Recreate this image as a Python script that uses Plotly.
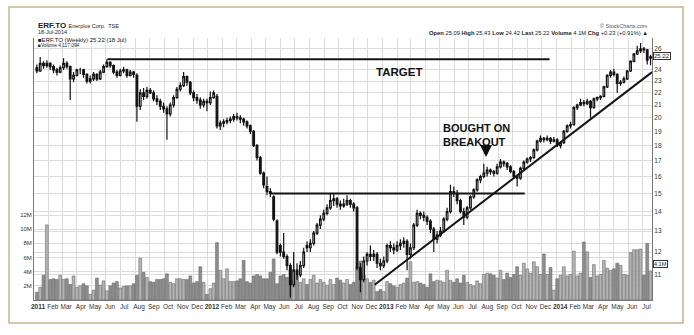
import math
import pandas as pd
import plotly.graph_objects as go

# ---------------- data (weekly, ERF.TO) ----------------
first_week = "2011-01-07"   # first weekly bar (Friday)
n_weeks = 185

opens_2011 = [24.2, 23.9, 24.6, 24.4, 24.6, 24.3, 24.0, 23.8, 24.2, 24.6,
              24.3, 23.2, 23.5, 24.0, 24.0, 23.6, 23.0, 23.2, 23.6, 23.2,
              23.8, 24.3, 24.7, 24.4, 23.8, 23.5, 23.9, 24.0, 23.5, 23.8,
              23.5, 20.9, 22.0, 21.7, 22.2, 22.0, 21.5, 21.3, 20.9, 20.7,
              20.3, 21.0, 21.6, 22.3, 22.6, 23.4, 22.9, 22.0, 21.6, 21.4,
              21.0, 21.3]
highs_2011 = [24.5, 25.2, 24.8, 24.9, 24.7, 24.5, 24.2, 24.4, 25.1, 24.8,
              24.4, 23.8, 24.1, 24.2, 24.1, 23.7, 23.5, 23.8, 23.7, 24.0,
              24.5, 25.0, 24.8, 24.5, 24.0, 24.1, 24.3, 24.1, 24.0, 23.9,
              23.7, 22.3, 22.4, 22.5, 22.4, 22.2, 21.8, 21.5, 21.2, 20.9,
              21.2, 21.8, 22.5, 22.9, 23.8, 23.5, 23.0, 22.2, 21.9, 21.6,
              21.5, 21.5]
lows_2011 = [23.7, 23.8, 24.1, 24.2, 24.0, 23.7, 23.5, 23.7, 24.0, 24.1,
             21.4, 22.9, 23.4, 23.6, 23.3, 22.8, 22.8, 23.0, 23.0, 23.1,
             23.7, 24.2, 24.2, 23.6, 23.3, 23.4, 23.7, 23.3, 23.4, 23.3,
             19.7, 20.6, 21.4, 21.5, 21.9, 21.3, 21.0, 20.6, 20.4, 18.4,
             20.1, 20.8, 21.5, 22.1, 22.5, 22.6, 21.8, 21.3, 21.1, 20.7,
             20.8, 20.5]
closes_2011 = [23.9, 24.6, 24.4, 24.6, 24.3, 24.0, 23.8, 24.2, 24.6, 24.3,
               23.2, 23.5, 24.0, 24.0, 23.6, 23.0, 23.2, 23.6, 23.2, 23.8,
               24.3, 24.7, 24.4, 23.8, 23.5, 23.9, 24.0, 23.5, 23.8, 23.6,
               20.9, 22.0, 21.7, 22.2, 22.0, 21.5, 21.3, 20.9, 20.7, 20.3,
               21.0, 21.6, 22.3, 22.6, 23.4, 22.9, 22.0, 21.6, 21.4, 21.0,
               21.3, 21.2]

opens_2012 = [21.2, 21.6, 21.7, 19.4, 19.6, 19.7, 19.8, 19.9, 20.1, 20.0,
              19.9, 19.7, 19.4, 19.0, 18.0, 17.2, 16.2, 15.4, 15.1, 14.8,
              13.5, 12.3, 12.0, 11.8, 11.4, 10.6, 11.2, 11.0, 11.4, 12.3,
              12.2, 12.4, 12.9, 13.3, 13.6, 13.9, 14.2, 14.6, 14.7, 14.4,
              14.3, 14.4, 14.6, 14.4, 14.2, 11.3, 10.8, 11.6, 11.9, 11.8,
              11.9, 11.5]
highs_2012 = [22.1, 22.2, 21.9, 19.8, 19.9, 20.0, 20.1, 20.3, 20.4, 20.2,
              20.0, 19.8, 19.5, 19.1, 18.1, 17.3, 16.3, 16.0, 15.3, 14.9,
              13.6, 12.4, 12.9, 11.9, 11.5, 12.0, 11.5, 11.6, 12.2, 12.5,
              12.6, 13.0, 13.4, 13.8, 14.1, 14.4, 15.0, 15.0, 14.8, 14.6,
              14.7, 14.9, 14.7, 14.5, 14.3, 11.5, 11.8, 12.0, 12.3, 12.1,
              12.0, 11.7]
lows_2012 = [21.0, 21.5, 19.2, 19.1, 19.3, 19.5, 19.6, 19.7, 19.8, 19.6,
             19.4, 19.2, 18.8, 17.9, 17.0, 16.1, 15.3, 14.9, 14.8, 13.5,
             11.9, 11.8, 11.7, 11.2, 10.1, 10.5, 10.8, 10.9, 11.3, 12.0,
             12.0, 12.3, 12.8, 13.1, 13.5, 13.8, 14.1, 14.3, 14.2, 14.1,
             14.2, 14.3, 14.2, 14.0, 11.2, 10.3, 10.7, 11.4, 11.6, 11.6,
             11.3, 11.2]
closes_2012 = [21.6, 22.0, 19.4, 19.6, 19.7, 19.8, 19.9, 20.1, 20.0, 19.9,
               19.7, 19.4, 19.0, 18.0, 17.2, 16.2, 15.5, 15.1, 15.0, 13.6,
               12.0, 12.0, 11.8, 11.4, 10.6, 11.2, 11.0, 11.4, 12.0, 12.2,
               12.4, 12.9, 13.3, 13.6, 13.9, 14.2, 14.6, 14.7, 14.4, 14.3,
               14.4, 14.6, 14.4, 14.2, 11.3, 10.8, 11.6, 11.9, 11.8, 11.9,
               11.5, 11.4]

opens_2013 = [11.4, 11.6, 12.3, 12.2, 12.1, 12.3, 12.4, 12.5, 11.9, 12.2,
              13.3, 13.9, 13.8, 13.7, 13.5, 13.1, 12.6, 12.8, 13.0, 13.6,
              14.0, 15.1, 15.0, 14.6, 14.0, 13.7, 14.2, 14.8, 15.2, 15.8,
              16.0, 16.2, 16.4, 16.3, 16.2, 16.6, 16.9, 16.8, 16.6, 16.3,
              16.0, 15.9, 16.5, 16.9, 17.1, 17.2, 17.7, 18.3, 18.5, 18.4,
              18.5, 18.3]
highs_2013 = [11.8, 12.4, 12.5, 12.4, 12.5, 12.6, 12.7, 12.6, 12.4, 13.4,
              14.1, 14.0, 14.0, 13.8, 13.6, 13.2, 13.0, 13.2, 13.7, 14.2,
              15.5, 15.4, 15.2, 14.7, 14.2, 14.3, 14.9, 15.3, 15.9, 16.1,
              16.8, 16.6, 16.5, 16.4, 16.8, 17.1, 17.0, 16.9, 16.7, 16.4,
              16.1, 16.6, 17.0, 17.2, 17.3, 17.8, 18.4, 18.7, 18.6, 18.7,
              18.6, 18.6]
lows_2013 = [11.3, 11.5, 12.0, 11.9, 12.0, 12.1, 12.2, 11.2, 11.7, 12.1,
             13.2, 13.6, 13.5, 13.3, 12.9, 12.0, 12.4, 12.7, 12.9, 13.5,
             13.9, 14.8, 14.4, 13.9, 13.3, 13.6, 14.1, 14.7, 15.1, 15.6,
             15.9, 16.0, 16.1, 16.0, 16.1, 16.5, 16.6, 16.4, 16.2, 15.9,
             15.4, 15.8, 16.4, 16.8, 16.9, 17.1, 17.6, 18.2, 18.2, 18.3,
             18.1, 18.2]
closes_2013 = [11.6, 12.3, 12.2, 12.1, 12.3, 12.4, 12.5, 11.9, 12.2, 13.3,
               13.9, 13.8, 13.7, 13.5, 13.1, 12.6, 12.8, 13.0, 13.6, 14.0,
               15.1, 15.0, 14.6, 14.0, 13.7, 14.2, 14.8, 15.2, 15.8, 16.0,
               16.2, 16.4, 16.3, 16.2, 16.6, 16.9, 16.8, 16.6, 16.3, 16.0,
               15.9, 16.5, 16.9, 17.1, 17.2, 17.7, 18.3, 18.5, 18.4, 18.5,
               18.3, 18.4]

opens_2014 = [18.4, 18.0, 18.2, 19.0, 19.4, 19.5, 20.8, 21.0, 21.2, 21.1,
              21.3, 20.8, 21.5, 21.6, 21.7, 22.5, 23.5, 23.8, 23.6, 22.8,
              22.9, 23.2, 23.9, 24.8, 25.5, 25.8, 26.0, 25.9, 25.09]
highs_2014 = [18.5, 18.3, 19.1, 19.5, 19.7, 20.9, 21.1, 21.5, 21.4, 21.5,
              21.4, 21.6, 21.7, 21.8, 22.6, 23.6, 24.0, 24.1, 23.7, 23.1,
              23.4, 24.0, 24.9, 25.6, 26.3, 26.6, 26.2, 26.0, 25.43]
lows_2014 = [17.9, 17.8, 18.1, 18.9, 19.2, 19.4, 20.6, 20.9, 20.9, 21.0,
             20.0, 20.7, 21.3, 21.4, 21.6, 22.4, 23.3, 23.4, 22.0, 22.6,
             22.8, 23.1, 23.8, 24.7, 25.4, 25.6, 25.6, 24.5, 24.42]
closes_2014 = [18.0, 18.2, 19.0, 19.4, 19.5, 20.8, 21.0, 21.2, 21.1, 21.3,
               20.8, 21.5, 21.6, 21.7, 22.5, 23.5, 23.8, 23.6, 22.8, 22.9,
               23.2, 23.9, 24.8, 25.5, 25.8, 26.0, 25.9, 24.9, 25.22]

# weekly volume, millions of shares
volume_2011 = [1.1, 1.8, 3.5, 10.6, 2.9, 3.0, 2.9, 3.5, 2.9, 3.0,
               2.2, 3.4, 1.8, 2.0, 2.3, 2.0, 0.8, 1.4, 3.1, 2.1,
               2.7, 1.3, 2.0, 2.4, 2.6, 1.7, 1.9, 2.0, 2.0, 2.3,
               3.5, 5.9, 3.9, 3.2, 2.6, 2.5, 2.9, 2.9, 3.0, 3.7,
               2.5, 2.3, 3.0, 3.0, 2.9, 2.9, 3.4, 2.4, 2.6, 4.7,
               2.5, 0.8]
volume_2012 = [1.6, 2.4, 8.1, 4.2, 3.0, 4.4, 2.6, 2.6, 2.7, 3.0,
               5.6, 2.6, 2.4, 3.4, 3.6, 3.4, 3.0, 3.0, 3.9, 5.8,
               2.3, 3.4, 3.6, 3.2, 4.4, 2.7, 3.4, 2.5, 3.0, 2.2,
               2.9, 3.5, 2.4, 2.9, 2.5, 2.1, 2.9, 2.2, 3.1, 2.8,
               2.4, 2.9, 2.2, 2.5, 4.6, 5.5, 3.5, 3.0, 2.5, 2.8,
               1.2, 1.5]
volume_2013 = [1.2, 2.6, 2.3, 2.0, 1.8, 2.2, 2.4, 3.1, 5.4, 2.5,
               2.6, 2.4, 2.2, 1.8, 3.7, 2.6, 2.8, 2.7, 2.5, 4.2,
               2.8, 2.5, 3.0, 2.4, 3.5, 2.5, 2.2, 2.0, 2.7, 2.3,
               3.6, 3.8, 3.7, 3.5, 3.1, 4.2, 2.9, 3.8, 3.2, 3.6,
               4.7, 3.5, 5.2, 4.4, 3.8, 5.4, 4.7, 3.6, 6.5, 3.6,
               4.6, 1.4]
volume_2014 = [3.0, 3.5, 4.7, 3.4, 3.6, 6.9, 3.4, 3.8, 8.2, 6.8,
               3.2, 5.0, 3.4, 3.6, 5.6, 4.5, 4.2, 4.4, 5.2, 4.9,
               3.6, 3.5, 6.7, 7.1, 7.1, 7.2, 3.5, 8.0, 4.1]

# annotation lines (date, price)
target_dates = ["2011-06-04", "2013-12-18"]
target_prices = [25.0, 25.0]
breakout_dates = ["2012-05-10", "2013-10-27"]
breakout_prices = [15.0, 15.0]
trend_dates = ["2012-12-16", "2014-07-21"]
trend_prices = [10.6, 23.8]

# axis ticks
months = ["Feb", "Mar", "Apr", "May", "Jun", "Jul", "Aug", "Sep", "Oct", "Nov", "Dec"]
month_labels = (["<b>2011</b>"] + months + ["<b>2012</b>"] + months +
                ["<b>2013</b>"] + months + ["<b>2014</b>"] + months[:6])
price_ticks = [11, 12, 13, 14, 15, 16, 17, 18, 19, 20, 21, 22, 23, 24, 26]
volume_ticks = [2, 4, 6, 8, 10, 12]
volume_tick_labels = ["2M", "4M", "6M", "8M", "10M", "12M"]

# ---------------- assemble ----------------
opens = opens_2011 + opens_2012 + opens_2013 + opens_2014
highs = highs_2011 + highs_2012 + highs_2013 + highs_2014
lows = lows_2011 + lows_2012 + lows_2013 + lows_2014
closes = closes_2011 + closes_2012 + closes_2013 + closes_2014
volumes = volume_2011 + volume_2012 + volume_2013 + volume_2014
dates = pd.date_range(first_week, periods=n_weeks, freq="W-FRI")
assert len(opens) == len(highs) == len(lows) == len(closes) == len(volumes) == n_weeks
month_starts = pd.date_range("2011-01-01", "2014-07-01", freq="MS")
assert len(month_starts) == len(month_labels)

vol_colors = ["#b4b4b4" if c >= o else "#8e8e8e" for o, c in zip(opens, closes)]

# plot area geometry (pixels) for paper-coordinate text placement
L, R, T, B = 34, 652, 38, 300
def xp(px):
    return (px - L) / (R - L)
def yp(py):
    return (B - py) / (B - T)

fig = go.Figure()
fig.add_trace(go.Bar(
    x=dates, y=volumes, yaxis="y",
    marker=dict(color=vol_colors, line=dict(color="#5c5c5c", width=0.5)),
    width=6 * 86400000, hoverinfo="skip"))
fig.add_trace(go.Candlestick(
    x=dates, open=opens, high=highs, low=lows, close=closes, yaxis="y2",
    increasing=dict(line=dict(color="#111111", width=1.2), fillcolor="#ffffff"),
    decreasing=dict(line=dict(color="#111111", width=1.2), fillcolor="#111111"),
    whiskerwidth=0))
for xs, ys in [(target_dates, target_prices), (breakout_dates, breakout_prices),
               (trend_dates, trend_prices)]:
    fig.add_trace(go.Scatter(x=xs, y=ys, yaxis="y2", mode="lines",
                             line=dict(color="#151515", width=2), hoverinfo="skip"))

grid = "#dcdcdc"
fig.update_layout(
    width=694, height=335,
    margin=dict(l=L, r=694 - R, t=T, b=335 - B, pad=0),
    paper_bgcolor="white", plot_bgcolor="white",
    showlegend=False,
    font=dict(family="Liberation Sans, Arial, sans-serif", size=7, color="#333333"),
    xaxis=dict(type="date", range=["2011-01-01", "2014-07-21"],
               tickvals=month_starts, ticktext=month_labels, tickangle=0,
               showgrid=True, gridcolor=grid, gridwidth=1,
               showline=True, linecolor="#777777", linewidth=1,
               ticks="", ticklabelshift=4, tickfont=dict(size=6.5),
               rangeslider=dict(visible=False)),
    yaxis=dict(range=[0, 37.0], tickvals=volume_ticks, ticktext=volume_tick_labels,
               side="left", showgrid=True, gridcolor=grid, gridwidth=1,
               showline=True, linecolor="#777777", linewidth=1,
               zeroline=False, ticks="", tickfont=dict(size=6)),
    yaxis2=dict(type="log", range=[math.log10(10.0), math.log10(27.1)],
                overlaying="y", side="right", tickvals=price_ticks,
                ticktext=[str(v) for v in price_ticks],
                showgrid=True, gridcolor=grid, gridwidth=1,
                showline=True, linecolor="#777777", linewidth=1,
                ticks="", tickfont=dict(size=6.5)),
)

ann = []
def txt(x, y, text, size, xanchor="left", color="#222222", **kw):
    ann.append(dict(xref="paper", yref="paper", x=x, y=y, text=text,
                    showarrow=False, xanchor=xanchor, yanchor="middle",
                    font=dict(size=size, color=color), **kw))

txt(xp(36), yp(26), "<b>ERF.TO</b> <span style='font-size:5.5px'>Enerplus Corp.  TSE</span>", 8)
txt(xp(36), yp(32.5), "18-Jul-2014", 5.5)
txt(xp(36), yp(39.5), "■ERF.TO (Weekly) 25.22 (18 Jul)", 6)
txt(xp(36), yp(45), "■Volume 4,117,094", 4.8)
txt(xp(650), yp(25.5), "© StockCharts.com", 5.5, xanchor="right", color="#555555")
txt(xp(650), yp(33),
    "<b>Open</b> 25.09 <b>High</b> 25.43 <b>Low</b> 24.42 <b>Last</b> 25.22 "
    "<b>Volume</b> 4.1M <b>Chg</b> +0.23 (+0.91%) ▲", 5.8, xanchor="right")
txt(xp(399), yp(72), "<b>TARGET</b>", 11.5, xanchor="center", color="#111111")
txt(xp(441), yp(128), "<b>BOUGHT ON</b>", 11, color="#111111")
txt(xp(441), yp(142), "<b>BREAKOUT</b>", 11, color="#111111")
txt(xp(653), yp(56.5), "25.22", 6, bgcolor="white", bordercolor="#333333",
    borderwidth=1, borderpad=0)
txt(xp(653), yp(264), "4.1M", 5.5, bgcolor="white", bordercolor="#333333",
    borderwidth=1, borderpad=0)
ann.append(dict(xref="paper", yref="paper", x=xp(486), y=yp(157), ax=0, ay=-11,
                text="", showarrow=True, arrowhead=2, arrowsize=0.8,
                arrowwidth=3, arrowcolor="#111111"))
fig.update_layout(annotations=ann)

fig.add_shape(type="rect", xref="paper", yref="paper",
              x0=xp(9), x1=xp(683), y0=yp(323), y1=yp(7),
              line=dict(color="#c9b48f", width=1.5), fillcolor="rgba(0,0,0,0)")

fig.write_html("out.html")
